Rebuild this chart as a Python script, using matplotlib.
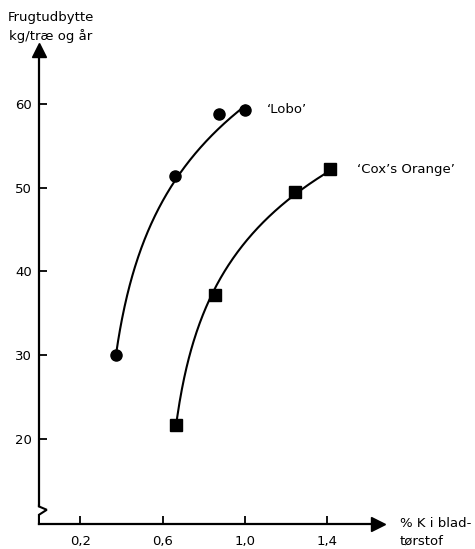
import numpy as np
import matplotlib
matplotlib.use("Agg")
import matplotlib.pyplot as plt

# ---------------- DATA ---------------- #
lobo_k = [0.375, 0.661, 0.876, 1.001]
lobo_yield = [30.0, 51.4, 58.8, 59.3]
cox_k = [0.664, 0.855, 1.244, 1.414]
cox_yield = [21.6, 37.1, 49.5, 52.2]

x_ticks = [0.2, 0.6, 1.0, 1.4]
x_labels = ["0,2", "0,6", "1,0", "1,4"]
y_ticks = [20, 30, 40, 50, 60]

plt.rcParams['font.family'] = ['DejaVu Sans']


def log_curve(xs, ys, offset, weights=None, n=200):
    # smooth trend line y = a + b*ln(x - c), drawn between first and last point
    xs = np.asarray(xs)
    ys = np.asarray(ys)
    c = xs[0] - offset
    b, a = np.polyfit(np.log(xs - c), ys, 1, w=weights)
    xx = np.linspace(xs[0], xs[-1], n)
    return xx, a + b * np.log(xx - c)


fig = plt.figure(figsize=(4.75, 5.49), dpi=100)
ax = fig.add_axes([0.082, 0.0455, 0.714, 0.863])
ax.set_xlim(0, 1.647)
ax.set_ylim(9.8, 66.4)

for s in ['top', 'right']:
    ax.spines[s].set_visible(False)
for s in ['left', 'bottom']:
    ax.spines[s].set_linewidth(1.6)

# arrow heads
ax.plot(1, 0, marker='>', color='black', markersize=10, transform=ax.transAxes, clip_on=False)
ax.plot(0, 1, marker='^', color='black', markersize=10, transform=ax.transAxes, clip_on=False)

# axis break squiggle near the bottom of the y axis
ax.spines['left'].set_bounds(12.0, 66.4)
brk_x = [0, 0, 0.038, 0, 0]
brk_y = [12.0, 11.9, 11.5, 10.9, 9.8]
ax.plot(brk_x, brk_y, color='black', lw=1.5, clip_on=False, solid_joinstyle='miter')

ax.set_xticks(x_ticks)
ax.set_xticklabels(x_labels)
ax.set_yticks(y_ticks)
ax.tick_params(direction='in', length=6, width=1.3, labelsize=9.5)
ax.tick_params(axis='x', pad=8)
ax.tick_params(axis='y', pad=5)

# curves and points (third Lobo point sits above the hand-drawn line)
lx, ly = log_curve(lobo_k, lobo_yield, 0.08, weights=[1, 1, 0.2, 1])
cx, cy = log_curve(cox_k, cox_yield, 0.064)
ax.plot(lx, ly, color='black', lw=1.5)
ax.plot(cx, cy, color='black', lw=1.5)
ax.plot(lobo_k, lobo_yield, 'o', color='black', markersize=8)
ax.plot(cox_k, cox_yield, 's', color='black', markersize=8)

ax.annotate("\u2018Lobo\u2019", (lobo_k[-1], lobo_yield[-1]), xytext=(16, 0),
            textcoords='offset points', va='center', ha='left', fontsize=9.5)
ax.annotate("\u2018Cox\u2019s Orange\u2019", (cox_k[-1], cox_yield[-1]), xytext=(19, 0),
            textcoords='offset points', va='center', ha='left', fontsize=9.5)

# axis titles
fig.text(51 / 475, 1 - 27 / 549, "Frugtudbytte\nkg/træ og år", ha='center', va='center',
         fontsize=9.5, linespacing=1.45)
fig.text(400 / 475, 1 - 532 / 549, "% K i blad-\ntørstof", ha='left', va='center',
         fontsize=9.5, linespacing=1.45)

fig.savefig("out.png", dpi=100)
